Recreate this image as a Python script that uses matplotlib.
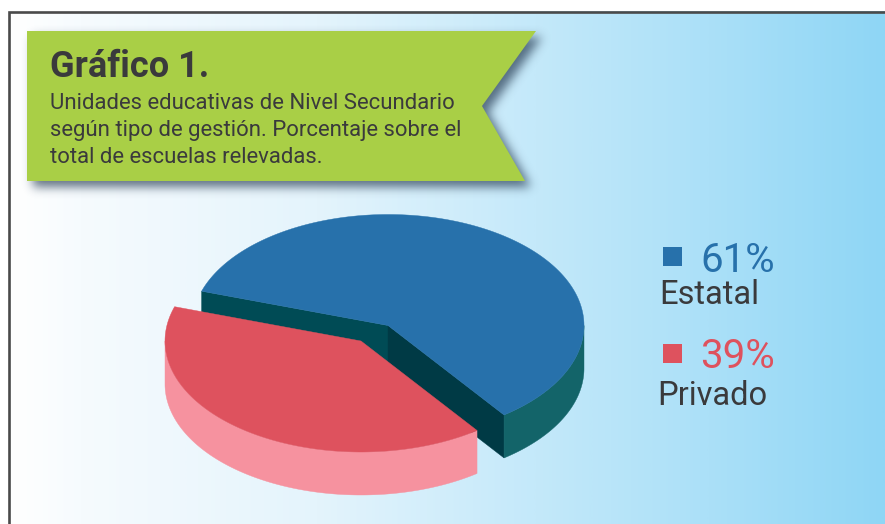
import numpy as np
import matplotlib
matplotlib.use("Agg")
import matplotlib.pyplot as plt
from matplotlib.colors import LinearSegmentedColormap
from matplotlib.patches import Polygon, Rectangle
from matplotlib.path import Path

# data
categories = ["Estatal", "Privado"]
shares = [61, 39]
title = "Gráfico 1."
subtitle = [
    "Unidades educativas de Nivel Secundario",
    "según tipo de gestión. Porcentaje sobre el",
    "total de escuelas relevadas.",
]

# constants
W, H = 885, 524
CX, CY = 388, 325.5
RX, RY = 196, 111
DEPTH = 43
EXPLODE = (-27, 15.5)
START = -53.7
# the slices in the source are not quite drawn to scale
SWEEP_TRIM = 3.9

BLUE, BLUE_SIDE, BLUE_IN1, BLUE_IN2 = "#2771AB", "#136469", "#004B55", "#003A45"
RED, RED_SIDE = "#DE525E", "#F6929F"
TEXT = "#3A3A3C"

plt.rcParams["font.family"] = ["Roboto", "DejaVu Sans"]


def arc(a0, a1, cx, cy, dy=0):
    t = np.radians(np.linspace(a0, a1, 200))
    return np.column_stack([cx + RX * np.cos(t), cy - RY * np.sin(t) + dy])


def band(a0, a1, cx, cy, color, ax, z):
    pts = np.vstack([arc(a0, a1, cx, cy), arc(a0, a1, cx, cy, DEPTH)[::-1]])
    ax.add_patch(Polygon(pts, fc=color, ec=color, lw=0.3, zorder=z))


def ray_face(angle, cx, cy, color, ax, z):
    p = arc(angle, angle, cx, cy)[0]
    pts = [(cx, cy), p, (p[0], p[1] + DEPTH), (cx, cy + DEPTH)]
    ax.add_patch(Polygon(pts, fc=color, ec=color, lw=0.3, zorder=z))


def top(a0, a1, cx, cy, color, ax, z):
    pts = np.vstack([[(cx, cy)], arc(a0, a1, cx, cy)])
    ax.add_patch(Polygon(pts, fc=color, ec=color, lw=0.3, zorder=z))


def blurred_shadow(ax, pts, offset, size, strength, z):
    xx, yy = np.meshgrid(np.arange(W) + 0.5, np.arange(H) + 0.5)
    shifted = [(x + offset[0], y + offset[1]) for x, y in pts]
    mask = Path(shifted).contains_points(np.column_stack([xx.ravel(), yy.ravel()]))
    mask = mask.reshape(H, W).astype(float)
    k = np.exp(-0.5 * (np.arange(-3 * size, 3 * size + 1) / size) ** 2)
    k /= k.sum()
    mask = np.apply_along_axis(lambda r: np.convolve(r, k, mode="same"), 0, mask)
    mask = np.apply_along_axis(lambda r: np.convolve(r, k, mode="same"), 1, mask)
    rgba = np.zeros((H, W, 4))
    rgba[..., :3] = (0.16, 0.24, 0.33)
    rgba[..., 3] = mask * strength
    ax.imshow(rgba, extent=[0, W, H, 0], aspect="auto", zorder=z)


fig = plt.figure(figsize=(W / 100, H / 100), dpi=100)
ax = fig.add_axes([0, 0, 1, 1])
ax.axis("off")

# background gradient
cmap = LinearSegmentedColormap.from_list(
    "bg",
    [(0, "#FFFFFF"), (0.08, "#F6FBFE"), (0.35, "#E4F4FC"), (0.6, "#C4E9FA"), (0.8, "#ABE0F8"), (1, "#8FD6F5")],
)
ax.imshow(np.linspace(0, 1, 400)[None, :], extent=[9, W, H, 11], cmap=cmap, aspect="auto", zorder=0)
ax.plot([8.5, 8.5, W], [H, 11.5, 11.5], color="#4A4A4A", lw=1.9, zorder=1, solid_joinstyle="miter")

# banner with soft shadow
banner = [(27, 31), (536, 31), (482, 106), (525, 181), (27, 181)]
blurred_shadow(ax, banner, (6, 6), 5, 0.72, 2)
ax.add_patch(Polygon(banner, fc="#A9CF46", ec="none", zorder=3))
ax.text(50, 67, title, fontsize=26, fontweight="bold", color=TEXT, va="center", ha="left", zorder=4)
for i, line in enumerate(subtitle):
    ax.text(50, 103.5 + i * 27, line, fontsize=15.9, color=TEXT, va="center", ha="left", zorder=4)

# pie, blue slice stays in place and the red one is pulled out
end = START + shares[0] * 3.6 - SWEEP_TRIM
rx0, ry0 = CX + EXPLODE[0], CY + EXPLODE[1]
ray_face(end, CX, CY, BLUE_IN1, ax, 5)
ray_face(START, CX, CY, BLUE_IN2, ax, 5)
band(START, 0, CX, CY, BLUE_SIDE, ax, 5)
top(START, end, CX, CY, BLUE, ax, 6)
band(180, START + 360, rx0, ry0, RED_SIDE, ax, 7)
top(end, START + 360, rx0, ry0, RED, ax, 8)

# legend
colors = [BLUE, RED]
pct_y = [260, 357]
name_y = [295, 396]
name_x = [659.5, 657.5]
for i, cat in enumerate(categories):
    ax.add_patch(Rectangle((663, pct_y[i] - 13), 19, 19, fc=colors[i], ec="none", zorder=4))
    ax.text(700, pct_y[i], f"{shares[i]}%", fontsize=29, color=colors[i], va="center", ha="left", zorder=4)
    ax.text(name_x[i], name_y[i], cat, fontsize=23.5, color=TEXT, va="center", ha="left", zorder=4)

ax.set_xlim(0, W)
ax.set_ylim(H, 0)
fig.savefig("out.png", dpi=100)
